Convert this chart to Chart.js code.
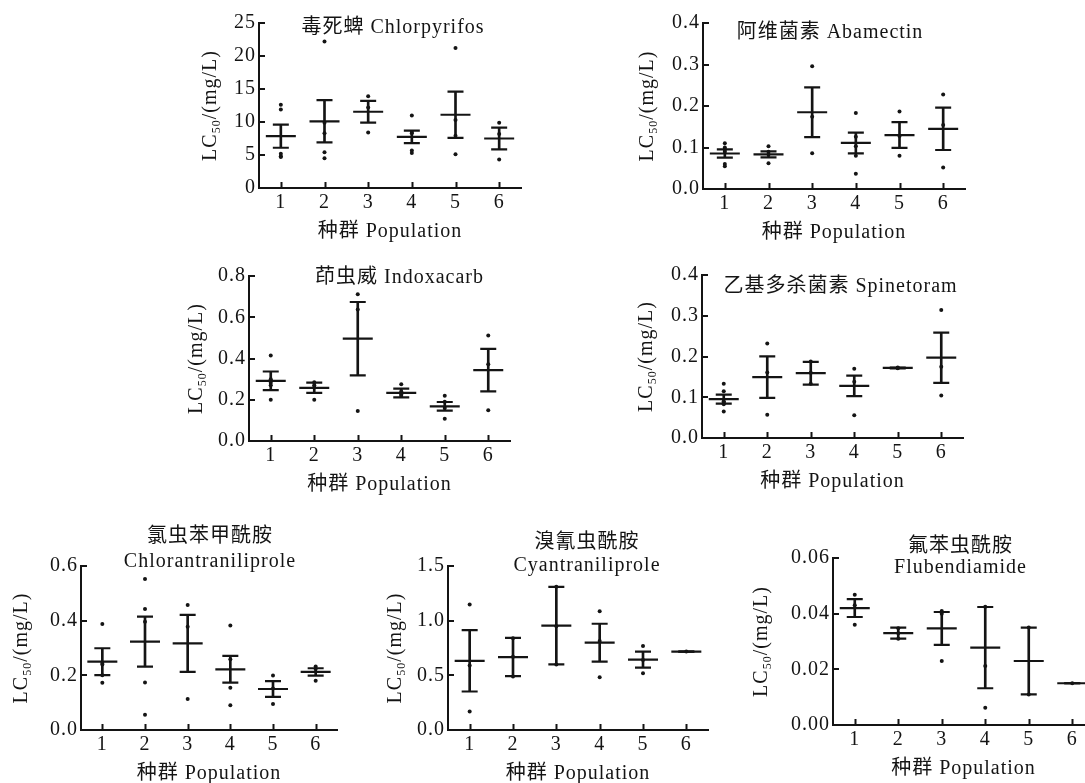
<!DOCTYPE html>
<html>
<head>
<meta charset="utf-8">
<script src="https://cdn.jsdelivr.net/npm/chart.js@4.4.1/dist/chart.umd.min.js"></script>
<style>
  html, body { margin: 0; padding: 0; background: #fff; overflow: hidden; }
  body { width: 1085px; height: 783px; position: relative; }
  .panel { position: absolute; }
</style>
</head>
<body>
<script>
const populations = ['1', '2', '3', '4', '5', '6'];

// 毒死蜱 Chlorpyrifos
const chlorpyrifosPoints = [[12.6, 11.9, 5.2, 4.8, 4.7], [22.2, 9.9, 8.3, 5.4, 4.5], [13.9, 12.2, 8.4], [11.0, 8.5, 8.3, 5.7, 5.3], [21.2, 10.3, 7.9, 5.1], [9.9, 8.2, 4.3]];
const chlorpyrifosMean = [7.85, 10.1, 11.55, 7.75, 11.1, 7.5];
const chlorpyrifosSem = [1.75, 3.2, 1.65, 0.95, 3.5, 1.65];

// 阿维菌素 Abamectin
const abamectinPoints = [[0.11, 0.10, 0.095, 0.09, 0.06, 0.055], [0.103, 0.09, 0.083, 0.062], [0.296, 0.174, 0.086], [0.183, 0.126, 0.103, 0.080, 0.037], [0.187, 0.128, 0.080], [0.228, 0.154, 0.052]];
const abamectinMean = [0.0855, 0.0835, 0.185, 0.111, 0.130, 0.145];
const abamectinSem = [0.010, 0.0073, 0.060, 0.025, 0.031, 0.051];

// 茚虫威 Indoxacarb
const indoxacarbPoints = [[0.415, 0.30, 0.283, 0.27, 0.20], [0.285, 0.27, 0.26, 0.20], [0.711, 0.637, 0.145], [0.275, 0.24, 0.225, 0.218], [0.22, 0.19, 0.16, 0.108], [0.512, 0.372, 0.149]];
const indoxacarbMean = [0.292, 0.258, 0.496, 0.233, 0.168, 0.344];
const indoxacarbSem = [0.045, 0.025, 0.178, 0.021, 0.021, 0.103];

// 乙基多杀菌素 Spinetoram
const spinetoramPoints = [[0.133, 0.115, 0.09, 0.087, 0.083, 0.065], [0.232, 0.161, 0.057], [0.188, 0.16, 0.133], [0.170, 0.138, 0.056], [0.171, 0.172, 0.173], [0.314, 0.175, 0.104]];
const spinetoramMean = [0.0955, 0.1495, 0.159, 0.128, 0.172, 0.197];
const spinetoramSem = [0.011, 0.051, 0.028, 0.025, 0.001, 0.0615];

// 氯虫苯甲酰胺 Chlorantraniliprole
const chlorantraniliprolePoints = [[0.388, 0.245, 0.24, 0.20, 0.173], [0.552, 0.443, 0.396, 0.174, 0.056], [0.457, 0.378, 0.113], [0.382, 0.259, 0.155, 0.091], [0.199, 0.152, 0.095], [0.232, 0.223, 0.180]];
const chlorantraniliproleMean = [0.25, 0.323, 0.317, 0.222, 0.150, 0.2125];
const chlorantraniliproleSem = [0.049, 0.0915, 0.104, 0.049, 0.029, 0.0135];

// 溴氰虫酰胺 Cyantraniliprole
const cyantraniliprolePoints = [[1.148, 0.589, 0.170], [0.84, 0.67, 0.49], [1.31, 0.95, 0.60], [1.087, 0.814, 0.483], [0.768, 0.64, 0.519], [0.717]];
const cyantraniliproleMean = [0.633, 0.667, 0.955, 0.799, 0.644, 0.717];
const cyantraniliproleSem = [0.281, 0.175, 0.354, 0.173, 0.073, 0];

// 氟苯虫酰胺 Flubendiamide
const flubendiamidePoints = [[0.0468, 0.043, 0.036], [0.0348, 0.033, 0.031], [0.041, 0.040, 0.023], [0.0425, 0.0212, 0.0062], [0.035, 0.011], [0.015]];
const flubendiamideMean = [0.042, 0.033, 0.0347, 0.0278, 0.023, 0.015];
const flubendiamideSem = [0.0032, 0.002, 0.0059, 0.0146, 0.012, 0];

const yTitle = ['LC', '50', '/(mg/L)'];
const xTitle = '种群 Population';

const FONT = '"Liberation Serif", "Noto Sans CJK SC", serif';
const INK = '#141414';
const PAD_L = 90, PAD_T = 50, PAD_R = 10, PAD_B = 65;

const panels = [
  { title: ['毒死蜱 Chlorpyrifos'], pts: chlorpyrifosPoints, mean: chlorpyrifosMean, sem: chlorpyrifosSem,
    yMax: 25, yStep: 5, dec: 0, box: [259, 23, 262, 165], tdx: 3, tdy: [5], yOff: 50 },
  { title: ['阿维菌素 Abamectin'], pts: abamectinPoints, mean: abamectinMean, sem: abamectinSem,
    yMax: 0.4, yStep: 0.1, dec: 1, box: [703, 23, 262, 166], tdx: -4, tdy: [10], yOff: 57 },
  { title: ['茚虫威 Indoxacarb'], pts: indoxacarbPoints, mean: indoxacarbMean, sem: indoxacarbSem,
    yMax: 0.8, yStep: 0.2, dec: 1, box: [249, 276, 261, 165], tdx: 20, tdy: [2], yOff: 54 },
  { title: ['乙基多杀菌素 Spinetoram'], pts: spinetoramPoints, mean: spinetoramMean, sem: spinetoramSem,
    yMax: 0.4, yStep: 0.1, dec: 1, box: [702, 275, 261, 163], tdx: 8, tdy: [12], yOff: 57 },
  { title: ['氯虫苯甲酰胺', 'Chlorantraniliprole'], pts: chlorantraniliprolePoints, mean: chlorantraniliproleMean, sem: chlorantraniliproleSem,
    yMax: 0.6, yStep: 0.2, dec: 1, box: [81, 566, 256, 164], tdx: 1, tdy: [-29, -4], yOff: 61 },
  { title: ['溴氰虫酰胺', 'Cyantraniliprole'], pts: cyantraniliprolePoints, mean: cyantraniliproleMean, sem: cyantraniliproleSem,
    yMax: 1.5, yStep: 0.5, dec: 1, box: [448, 566, 260, 164], tdx: 9, tdy: [-23, 0], yOff: 54 },
  { title: ['氟苯虫酰胺', 'Flubendiamide'], pts: flubendiamidePoints, mean: flubendiamideMean, sem: flubendiamideSem,
    yMax: 0.06, yStep: 0.02, dec: 2, box: [833, 558, 261, 167], tdx: -3, tdy: [-11, 10], yOff: 73 }
];

// titles, axis titles and inward tick marks
const decor = {
  id: 'decor',
  beforeDraw(chart) {
    chart.ctx.letterSpacing = '1px';
  },
  afterDraw(chart, args, opts) {
    const p = opts.panel;
    const { ctx, chartArea: a, scales } = chart;
    ctx.save();
    ctx.letterSpacing = '1px';
    ctx.strokeStyle = INK;
    ctx.lineWidth = 2;
    // inward ticks
    ctx.beginPath();
    scales.y.ticks.forEach(t => {
      const y = Math.round(scales.y.getPixelForValue(t.value));
      ctx.moveTo(a.left, y);
      ctx.lineTo(a.left + 6, y);
    });
    populations.forEach((c, i) => {
      const x = Math.round(scales.x.getPixelForValue(i)) + 0.5;
      ctx.moveTo(x, a.bottom);
      ctx.lineTo(x, a.bottom - 6);
    });
    ctx.stroke();

    ctx.fillStyle = INK;
    ctx.textAlign = 'center';
    ctx.textBaseline = 'middle';
    ctx.font = '20px ' + FONT;
    const cx = (a.left + a.right) / 2;
    p.title.forEach((line, i) => ctx.fillText(line, cx + p.tdx, a.top + p.tdy[i]));
    ctx.fillText(xTitle, cx, a.bottom + 44);

    // y title with subscript
    ctx.translate(a.left - p.yOff, (a.top + a.bottom) / 2);
    ctx.rotate(-Math.PI / 2);
    ctx.textAlign = 'left';
    ctx.textBaseline = 'alphabetic';
    ctx.font = '20px ' + FONT;
    const w1 = ctx.measureText(yTitle[0]).width;
    const w3 = ctx.measureText(yTitle[2]).width;
    ctx.font = '12px ' + FONT;
    const w2 = ctx.measureText(yTitle[1]).width;
    let x0 = -(w1 + w2 + w3) / 2;
    ctx.font = '20px ' + FONT;
    ctx.fillText(yTitle[0], x0, 7);
    ctx.font = '12px ' + FONT;
    ctx.fillText(yTitle[1], x0 + w1, 11);
    ctx.font = '20px ' + FONT;
    ctx.fillText(yTitle[2], x0 + w1 + w2, 7);
    ctx.restore();
  }
};

panels.forEach(p => {
  const [L, T, W, H] = p.box;
  const div = document.createElement('div');
  div.className = 'panel';
  div.style.left = (L - PAD_L) + 'px';
  div.style.top = (T - PAD_T) + 'px';
  const cv = document.createElement('canvas');
  cv.width = W + PAD_L + PAD_R;
  cv.height = H + PAD_T + PAD_B;
  div.appendChild(cv);
  document.body.appendChild(div);

  const dots = [];
  p.pts.forEach((arr, i) => arr.forEach(v => dots.push({ x: populations[i], y: v })));

  new Chart(cv, {
    type: 'bar',
    data: {
      labels: populations,
      datasets: [
        { type: 'line', data: dots, showLine: false, pointRadius: 2, pointStyle: 'circle',
          pointBackgroundColor: INK, pointBorderWidth: 0 },
        { type: 'line', data: p.mean, showLine: false, pointStyle: 'line', pointRadius: 15,
          pointBorderColor: INK, pointBorderWidth: 2.2 },
        { type: 'line', data: p.mean.map((m, i) => m + p.sem[i]), showLine: false, pointStyle: 'line',
          pointRadius: 8, pointBorderColor: INK, pointBorderWidth: 2.2 },
        { type: 'line', data: p.mean.map((m, i) => m - p.sem[i]), showLine: false, pointStyle: 'line',
          pointRadius: 8, pointBorderColor: INK, pointBorderWidth: 2.2 },
        { type: 'bar', data: p.mean.map((m, i) => [m - p.sem[i], m + p.sem[i]]),
          barThickness: 2, backgroundColor: INK, borderWidth: 0 }
      ]
    },
    options: {
      responsive: false,
      animation: false,
      events: [],
      layout: { autoPadding: false, padding: { left: 0, top: PAD_T, right: PAD_R, bottom: 0 } },
      plugins: { legend: { display: false }, tooltip: { enabled: false }, decor: { panel: p } },
      scales: {
        x: {
          offset: true,
          grid: { display: false, drawTicks: false, tickLength: 0 },
          border: { display: true, color: INK, width: 2 },
          ticks: { color: INK, font: { family: FONT, size: 20 }, padding: 3, maxRotation: 0 },
          afterFit(s) { s.height = PAD_B; s.paddingLeft = 0; s.paddingRight = 0; }
        },
        y: {
          min: 0, max: p.yMax,
          grid: { display: false, drawTicks: false, tickLength: 0 },
          border: { display: true, color: INK, width: 2 },
          ticks: { stepSize: p.yStep, color: INK, font: { family: FONT, size: 20 }, padding: 3,
            callback: v => Number(v).toFixed(p.dec) },
          afterFit(s) { s.width = PAD_L; s.paddingTop = 0; s.paddingBottom = 0; }
        }
      }
    },
    plugins: [decor]
  });
});
</script>
</body>
</html>
